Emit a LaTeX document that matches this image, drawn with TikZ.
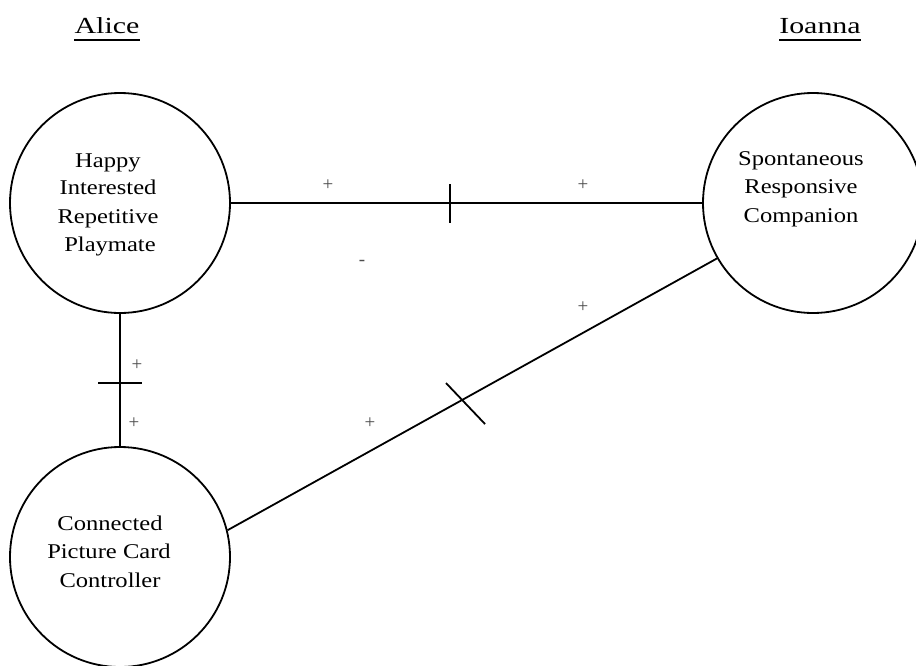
\documentclass[tikz,border=0pt]{standalone}
\usepackage{fontspec}
\setmainfont{Liberation Serif}
\newfontfamily\lblfont[FakeStretch=1.17]{Liberation Serif}
\newfontfamily\ttlfont[FakeStretch=1.3]{Liberation Serif}
\begin{document}
\begin{tikzpicture}[x=1pt,y=-1pt,
  bubble/.style={circle,draw,line width=1.8pt,minimum size=220pt,inner sep=0pt},
  ctext/.style={anchor=base,inner sep=0pt,font=\lblfont\fontsize{21}{21}\selectfont},
  title/.style={anchor=base,inner sep=0pt,font=\ttlfont\fontsize{23}{23}\selectfont},
  link/.style={line width=1.8pt},
  sign/.style={inner sep=0pt,text=black!70,font=\fontsize{19}{19}\selectfont},
  tickmark/.style={line width=1.8pt}]
\useasboundingbox (0,0) rectangle (916,665);
% titles
\node[title] (tA) at (107,33) {Alice};
\node[title] (tI) at (820,33) {Ioanna};
\draw[line width=1.1pt] ([yshift=-7pt]tA.base west) -- ([yshift=-7pt]tA.base east);
\draw[line width=1.1pt] ([yshift=-7pt]tI.base west) -- ([yshift=-7pt]tI.base east);
% circles
\node[bubble] (aa) at (120,203) {};
\node[bubble] (ii) at (813,203) {};
\node[bubble] (cc) at (120,557) {};
% circle texts
\node[ctext] (a1) at (108,167) {Happy};
\node[ctext] (a2) at (108,194) {Interested};
\node[ctext] (a3) at (108,223) {Repetitive};
\node[ctext] (a4) at (110,251) {Playmate};
\node[ctext] (i1) at (801,165) {Spontaneous};
\node[ctext] (i2) at (801,193) {Responsive};
\node[ctext] (i3) at (801,222) {Companion};
\node[ctext] (c1) at (110,530) {Connected};
\node[ctext] (c2) at (109,558) {Picture Card};
\node[ctext] (c3) at (110,587) {Controller};
% connectors
\draw[link] (aa.east) -- (ii.west) coordinate[pos=0.465] (t1);
\draw[link] (aa.south) -- (cc.north) coordinate[pos=0.52] (t2);
\draw[link] (cc.14) -- (ii.210) coordinate[pos=0.479] (t3);
% tick marks
\draw[tickmark] ([yshift=19pt]t1) -- ([yshift=-20pt]t1);
\draw[tickmark] ([xshift=-22pt]t2) -- ([xshift=22pt]t2);
\draw[tickmark] ([xshift=-16pt,yshift=17pt]t3) -- ([xshift=23pt,yshift=-24pt]t3);
% signs
\node[sign] (s1) at (328,185) {+};
\node[sign] (s2) at (583,185) {+};
\node[sign] (s3) at (362,263) {-};
\node[sign] (s4) at (583,307) {+};
\node[sign] (s5) at (137,365) {+};
\node[sign] (s6) at (134,423) {+};
\node[sign] (s7) at (370,423) {+};
\end{tikzpicture}
\end{document}
